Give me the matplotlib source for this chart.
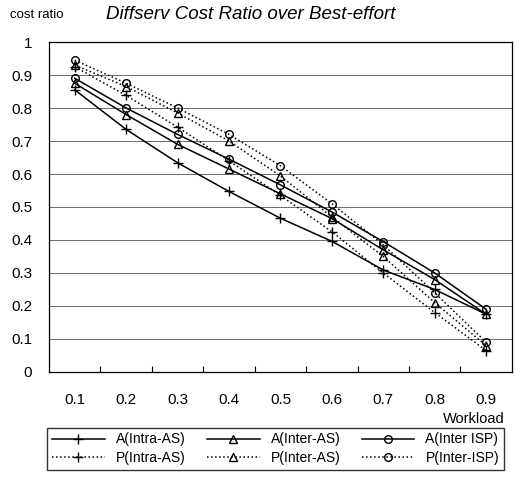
import matplotlib.pyplot as plt
import numpy as np

plt.rcParams['font.family'] = ['Liberation Sans', 'DejaVu Sans']

# Carico di lavoro (categorie sull'asse x)
workload = ['0.1', '0.2', '0.3', '0.4', '0.5', '0.6', '0.7', '0.8', '0.9']

# Rapporti di costo
a_intra_as = [0.855, 0.735, 0.634, 0.547, 0.466, 0.396, 0.309, 0.25, 0.175]
a_inter_as = [0.875, 0.78, 0.69, 0.615, 0.54, 0.465, 0.37, 0.28, 0.175]
a_inter_isp = [0.89, 0.80, 0.72, 0.645, 0.567, 0.485, 0.395, 0.30, 0.19]
p_intra_as = [0.925, 0.838, 0.742, 0.64, 0.535, 0.425, 0.30, 0.18, 0.065]
p_inter_as = [0.93, 0.865, 0.785, 0.70, 0.594, 0.47, 0.35, 0.21, 0.08]
p_inter_isp = [0.945, 0.875, 0.80, 0.72, 0.625, 0.51, 0.385, 0.24, 0.09]

fig = plt.figure(figsize=(5.16, 4.79), dpi=100)
ax = fig.add_axes([0.095, 0.2234, 0.897, 0.6889])

x = np.arange(len(workload))
serie = [
    (a_intra_as, '-', '+', 'A(Intra-AS)'),
    (p_intra_as, ':', '+', 'P(Intra-AS)'),
    (a_inter_as, '-', '^', 'A(Inter-AS)'),
    (p_inter_as, ':', '^', 'P(Inter-AS)'),
    (a_inter_isp, '-', 'o', 'A(Inter ISP)'),
    (p_inter_isp, ':', 'o', 'P(Inter-ISP)'),
]
for valori, stile, marcatore, nome in serie:
    ax.plot(x, valori, linestyle=stile, marker=marcatore, color='black',
            linewidth=1.1, markersize=7 if marcatore == '+' else 5.5,
            markerfacecolor='none', markeredgewidth=1.0, label=nome)

ax.set_xlim(-0.5, len(workload) - 0.5)
ax.set_ylim(0, 1)
ax.set_yticks(np.arange(0, 1.01, 0.1))
ax.set_yticklabels(['0', '0.1', '0.2', '0.3', '0.4', '0.5', '0.6', '0.7', '0.8', '0.9', '1'])
ax.set_xticks(x)
ax.set_xticklabels(workload)
ax.set_xticks(np.arange(0.5, len(workload) - 1, 1), minor=True)
ax.tick_params(axis='both', which='major', length=0, labelsize=11)
ax.tick_params(axis='x', pad=15)
ax.tick_params(axis='y', pad=12)
ax.tick_params(axis='x', which='minor', direction='in', length=4, width=0.8)
ax.yaxis.grid(True, color='#555555', linewidth=0.6)
for lato in ax.spines.values():
    lato.set_linewidth(0.9)

fig.text(0.02, 0.963, 'cost ratio', fontsize=9.5)
fig.text(0.205, 0.96, 'Diffserv Cost Ratio over Best-effort', fontsize=13.5, style='italic')
fig.text(0.978, 0.125, 'Workload', fontsize=10.5, ha='right', va='center')

fig.legend(loc='lower left', bbox_to_anchor=(0.078, 0.004, 0.912, 0.113), mode='expand',
           ncol=3, fontsize=10, frameon=True, fancybox=False, edgecolor='black',
           handlelength=3.8, borderpad=0.35, labelspacing=0.35, columnspacing=1.0)

plt.savefig('out.png', dpi=100)
